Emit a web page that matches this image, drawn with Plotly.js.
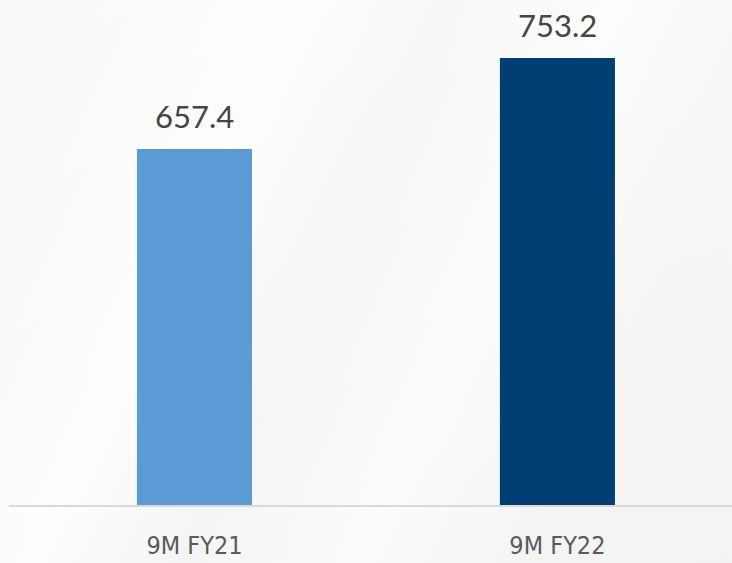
<!DOCTYPE html>
<html>
<head>
<meta charset="utf-8">
<script src="https://cdn.plot.ly/plotly-3.0.1.min.js"></script>
<style>
  html, body { margin: 0; padding: 0; }
  body {
    width: 732px; height: 563px; overflow: hidden;
    background:
      linear-gradient(115deg, rgba(255,255,255,0) 0%, rgba(255,255,255,0.8) 30%, rgba(255,255,255,0) 45%, rgba(255,255,255,0.7) 62%, rgba(255,255,255,0) 80%),
      linear-gradient(160deg, #f9f9f9 0%, #f6f6f6 50%, #f3f3f3 100%);
  }
  #chart { width: 732px; height: 563px; }
</style>
</head>
<body>
<div id="chart"></div>
<script>
const categories = ["9M FY21", "9M FY22"];
const values = [657.4, 753.2];
const valueLabels = ["657.4", "753.2"];
const barColors = ["#5b9bd5", "#003f73"];

const trace = {
  type: "bar",
  x: categories,
  y: values,
  marker: { color: barColors },
  width: 0.317,
  hoverinfo: "skip"
};

const annotations = categories.map((c, i) => ({
  x: c, y: values[i], xref: "x", yref: "y",
  text: valueLabels[i], showarrow: false,
  yanchor: "bottom", yshift: 12,
  font: { family: "Lato, 'Noto Sans', sans-serif", size: 31, color: "#454545" }
}));

const layout = {
  width: 732, height: 563,
  margin: { l: 9, r: 0, t: 0, b: 58 },
  paper_bgcolor: "rgba(0,0,0,0)",
  plot_bgcolor: "rgba(0,0,0,0)",
  showlegend: false,
  xaxis: {
    type: "category",
    range: [-0.511, 1.481],
    showline: true, linecolor: "#d9d9d9", linewidth: 2,
    showgrid: false, zeroline: false, ticks: "",
    ticklabelstandoff: 17,
    tickfont: { family: "'DejaVu Sans Condensed', sans-serif", size: 25, color: "#5a5a5a" }
  },
  yaxis: {
    range: [282.6, 814.2],
    visible: false, showgrid: false, zeroline: false
  },
  annotations: annotations
};

Plotly.newPlot("chart", [trace], layout, { staticPlot: true, displayModeBar: false });
</script>
</body>
</html>
